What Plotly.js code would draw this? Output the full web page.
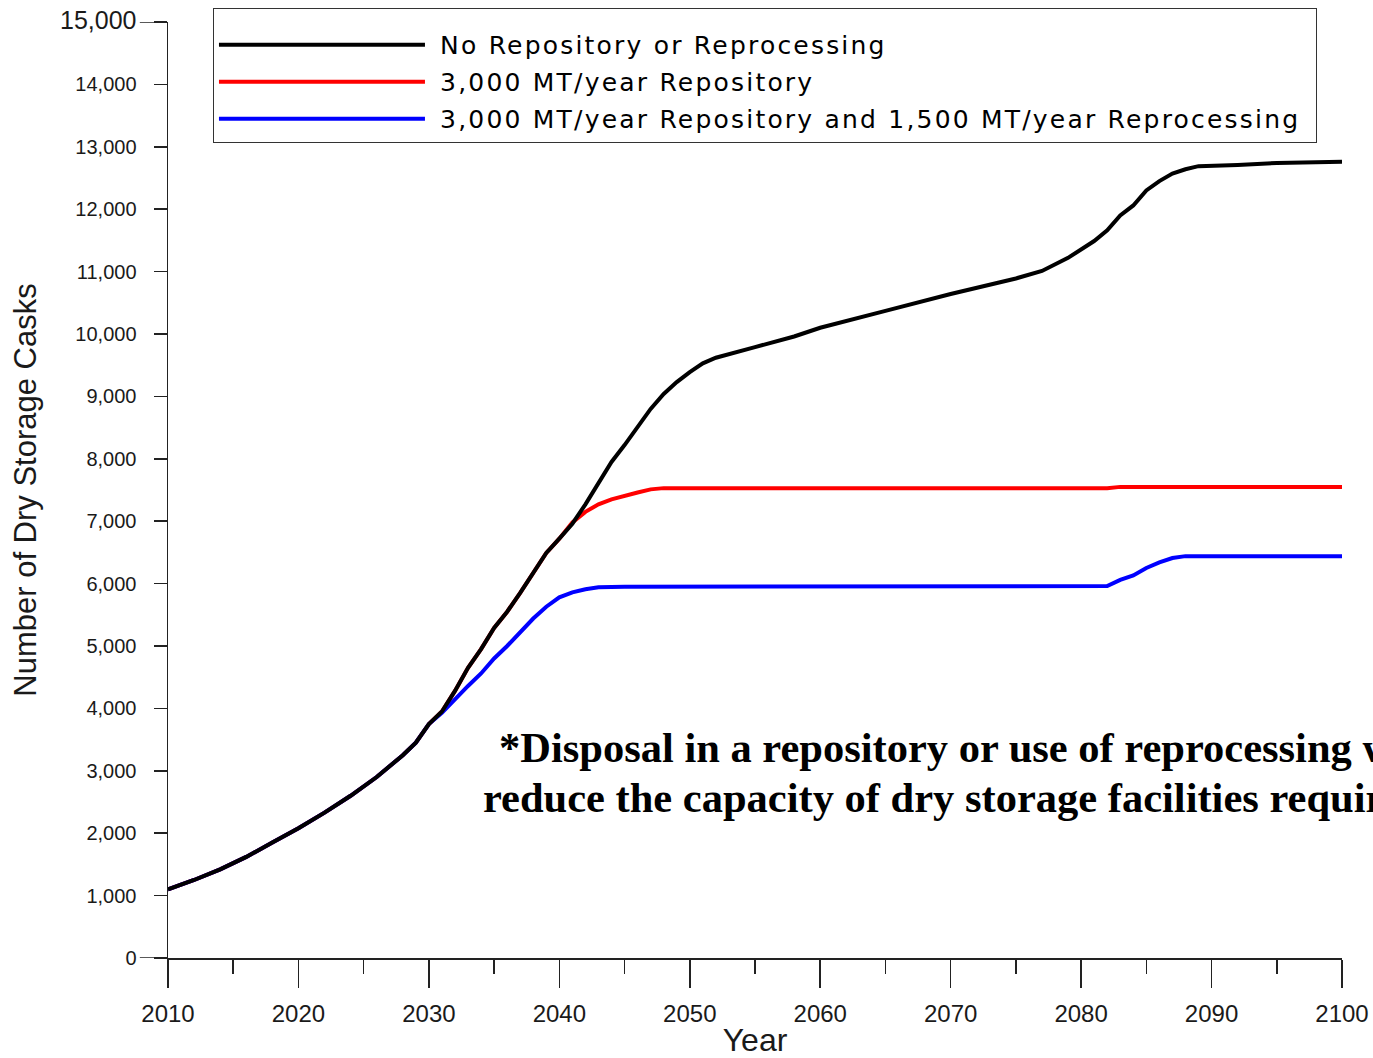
<!DOCTYPE html>
<html>
<head>
<meta charset="utf-8">
<script src="https://cdn.plot.ly/plotly-3.0.1.min.js"></script>
<style>
  html, body { margin: 0; padding: 0; background: #fff; }
  #chart { width: 1373px; height: 1058px; }
  .legendtext { letter-spacing: 2.2px; }
</style>
</head>
<body>
<div id="chart"></div>
<script>
// ---- Data ----
const yearsBlack = [2010,2012,2014,2016,2018,2020,2022,2024,2026,2028,2029,2030,2031,2032,2033,2034,2035,2036,2037,2038,2039,2040,2041,2042,2043,2044,2045,2046,2047,2048,2049,2050,2051,2052,2053,2055,2058,2060,2065,2070,2075,2077,2079,2081,2082,2083,2084,2085,2086,2087,2088,2089,2092,2095,2100];
const casksNoRepository = [1100,1250,1420,1620,1850,2080,2330,2600,2900,3250,3450,3750,3950,4280,4650,4950,5290,5550,5850,6170,6490,6720,6960,7270,7600,7950,8220,8520,8800,9040,9230,9390,9530,9620,9680,9790,9960,10100,10370,10640,10890,11010,11220,11490,11660,11900,12060,12300,12450,12570,12640,12690,12710,12740,12760];

const yearsRed = [2010,2012,2014,2016,2018,2020,2022,2024,2026,2028,2029,2030,2031,2032,2033,2034,2035,2036,2037,2038,2039,2040,2041,2042,2043,2044,2045,2046,2047,2048,2082,2083,2100];
const casksRepository = [1100,1250,1420,1620,1850,2080,2330,2600,2900,3250,3450,3750,3950,4280,4650,4950,5290,5550,5850,6170,6490,6720,6980,7150,7270,7350,7410,7460,7510,7530,7530,7550,7550];

const yearsBlue = [2010,2012,2014,2016,2018,2020,2022,2024,2026,2028,2029,2030,2031,2032,2033,2034,2035,2036,2037,2038,2039,2040,2041,2042,2043,2045,2082,2083,2084,2085,2086,2087,2088,2100];
const casksRepositoryReprocessing = [1100,1250,1420,1620,1850,2080,2330,2600,2900,3250,3450,3750,3930,4150,4360,4560,4800,5000,5220,5440,5630,5780,5860,5910,5940,5950,5960,6060,6130,6250,6340,6410,6440,6440];

const seriesNames = [
  "No Repository or Reprocessing",
  "3,000 MT/year Repository",
  "3,000 MT/year Repository and 1,500 MT/year Reprocessing"
];

const yTickVals = [0,1000,2000,3000,4000,5000,6000,7000,8000,9000,10000,11000,12000,13000,14000,15000];
const yTickText = ["0","1,000","2,000","3,000","4,000","5,000","6,000","7,000","8,000","9,000","10,000","11,000","12,000","13,000","14,000","<span style=\"font-size:25px\">15,000</span>"];

const noteLine1 = "*Disposal in a repository or use of reprocessing will";
const noteLine2 = "reduce the capacity of dry storage facilities required.";

// ---- Traces ----
const lineW = 4;
const NB = "\u00a0";
const traces = [
  { x: yearsRed, y: casksRepository, name: NB + seriesNames[1], type: "scatter", mode: "lines",
    line: { color: "#ff0000", width: lineW }, legendrank: 2, legendgroup: "b" },
  { x: yearsBlue, y: casksRepositoryReprocessing, name: NB + seriesNames[2] + NB, type: "scatter", mode: "lines",
    line: { color: "#0000ff", width: lineW }, legendrank: 3, legendgroup: "c" },
  { x: yearsBlack, y: casksNoRepository, name: NB + seriesNames[0], type: "scatter", mode: "lines",
    line: { color: "#000000", width: lineW }, legendrank: 1, legendgroup: "a" }
];

const axisFont = { family: "Liberation Sans, Arial, sans-serif", color: "#1a1a1a" };

const layout = {
  width: 1373, height: 1058,
  margin: { l: 168, r: 31, t: 22, b: 100, pad: 0, autoexpand: false },
  paper_bgcolor: "#ffffff", plot_bgcolor: "#ffffff",
  showlegend: true,
  legend: {
    x: 0.0383, y: 1.015, xanchor: "left", yanchor: "top",
    bgcolor: "#ffffff", bordercolor: "#333333", borderwidth: 1,
    font: { family: "DejaVu Sans, sans-serif", size: 25, color: "#000" },
    title: { text: NB, font: { size: 10 } },
    itemwidth: 206, tracegroupgap: 1.5, traceorder: "grouped"
  },
  xaxis: {
    range: [2010, 2100], tickmode: "linear", tick0: 2010, dtick: 10,
    showgrid: false, zeroline: false, showline: true, linecolor: "#222", linewidth: 1.5,
    ticks: "outside", ticklen: 28, tickwidth: 1.5, tickcolor: "#222",
    minor: { tickmode: "linear", tick0: 2015, dtick: 10, ticks: "outside", ticklen: 14, tickwidth: 1.5, tickcolor: "#222", showgrid: false },
    tickfont: Object.assign({ size: 24 }, axisFont), ticklabelstandoff: 6,
    title: { text: "Year", font: Object.assign({ size: 32 }, axisFont), standoff: 14 }
  },
  yaxis: {
    range: [0, 15000], tickmode: "array", tickvals: yTickVals, ticktext: yTickText,
    showgrid: false, zeroline: false, showline: true, linecolor: "#222", linewidth: 1.5,
    ticks: "outside", ticklen: 13, tickwidth: 1.5, tickcolor: "#222",
    tickfont: Object.assign({ size: 20 }, axisFont), ticklabelstandoff: 13,
    title: { text: "Number of Dry Storage Casks", font: Object.assign({ size: 31 }, axisFont), standoff: 14 }
  },
  shapes: [
    { type: "line", xref: "paper", yref: "y", x0: -0.024, x1: 0, y0: 0, y1: 0, line: { color: "#222", width: 1.5 } },
    { type: "line", xref: "paper", yref: "y", x0: -0.024, x1: 0, y0: 15000, y1: 15000, line: { color: "#222", width: 1.5 } }
  ],
  annotations: [
    { text: noteLine1, x: 2035.22, y: 3381, xref: "x", yref: "y", xanchor: "left", yanchor: "middle",
      showarrow: false, font: { family: "Liberation Serif, Times New Roman, serif", size: 42.5, color: "#000", weight: "bold" } },
    { text: noteLine2, x: 2034.0, y: 2580, xref: "x", yref: "y", xanchor: "left", yanchor: "middle",
      showarrow: false, font: { family: "Liberation Serif, Times New Roman, serif", size: 42.5, color: "#000", weight: "bold" } }
  ]
};

Plotly.newPlot("chart", traces, layout, { displayModeBar: false, staticPlot: true });
</script>
</body>
</html>
